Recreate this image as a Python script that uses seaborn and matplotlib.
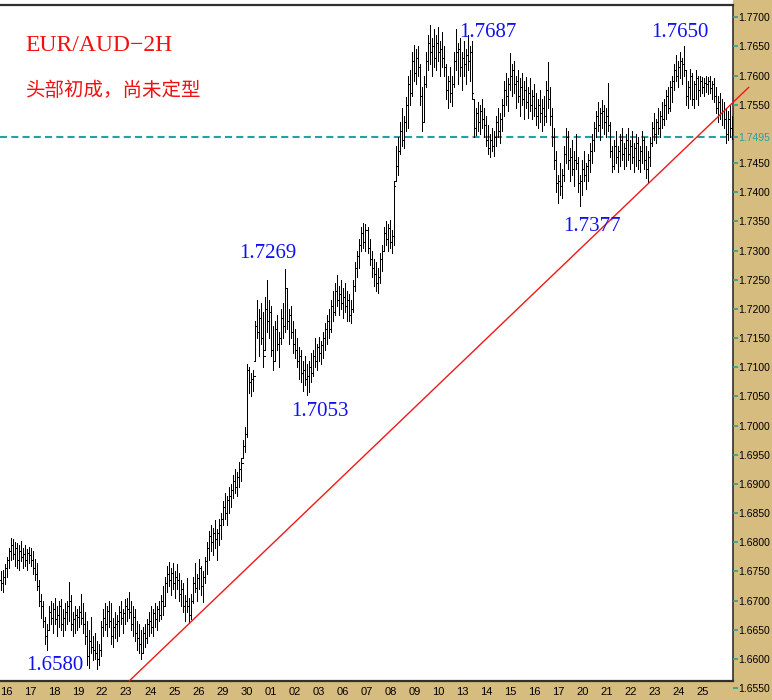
import numpy as np
import seaborn as sns
import matplotlib.pyplot as plt
from matplotlib.patches import Rectangle

# EUR/AUD 2H bars (one bar per 2 hours, 12 per day)
highs = [
    1.6750, 1.6752, 1.6762, 1.6775, 1.6790, 1.6807, 1.6805, 1.6800, 1.6798, 1.6795, 1.6802, 1.6790,
    1.6795, 1.6788, 1.6792, 1.6790, 1.6785, 1.6772, 1.6765, 1.6735, 1.6712, 1.6700, 1.6672, 1.6660,
    1.6690, 1.6700, 1.6695, 1.6705, 1.6690, 1.6700, 1.6702, 1.6685, 1.6695, 1.6700, 1.6732, 1.6710,
    1.6680, 1.6690, 1.6685, 1.6690, 1.6712, 1.6695, 1.6680, 1.6665, 1.6650, 1.6672, 1.6640, 1.6645,
    1.6630, 1.6625, 1.6665, 1.6685, 1.6695, 1.6690, 1.6700, 1.6695, 1.6670, 1.6680, 1.6675, 1.6690,
    1.6700, 1.6685, 1.6702, 1.6705, 1.6715, 1.6700, 1.6690, 1.6685, 1.6665, 1.6660, 1.6650, 1.6655,
    1.6660, 1.6668, 1.6680, 1.6690, 1.6685, 1.6695, 1.6690, 1.6700, 1.6710, 1.6725, 1.6740, 1.6760,
    1.6766, 1.6755, 1.6765, 1.6750, 1.6762, 1.6748, 1.6735, 1.6730, 1.6710, 1.6738, 1.6705, 1.6712,
    1.6740, 1.6765, 1.6745, 1.6772, 1.6760, 1.6750, 1.6775, 1.6800, 1.6820, 1.6830, 1.6825, 1.6838,
    1.6822, 1.6840, 1.6850, 1.6870, 1.6885, 1.6880, 1.6895, 1.6900, 1.6915, 1.6925, 1.6920, 1.6938,
    1.6945, 1.6975, 1.6998, 1.7105, 1.7100, 1.7090, 1.7095, 1.7180, 1.7215, 1.7200, 1.7210, 1.7195,
    1.7220, 1.7249, 1.7215, 1.7205, 1.7170, 1.7180, 1.7190, 1.7160, 1.7200, 1.7210, 1.7269, 1.7235,
    1.7200, 1.7205, 1.7180, 1.7165, 1.7150, 1.7135, 1.7130, 1.7110, 1.7120, 1.7105, 1.7110, 1.7125,
    1.7130, 1.7150, 1.7140, 1.7152, 1.7145, 1.7160, 1.7175, 1.7190, 1.7200, 1.7215, 1.7230, 1.7245,
    1.7258, 1.7240, 1.7250, 1.7235, 1.7245, 1.7230, 1.7225, 1.7215, 1.7250, 1.7280, 1.7300, 1.7320,
    1.7340, 1.7348, 1.7345, 1.7340, 1.7320, 1.7300, 1.7285, 1.7280, 1.7270, 1.7295, 1.7310, 1.7340,
    1.7350, 1.7345, 1.7352, 1.7335, 1.7420, 1.7480, 1.7494, 1.7520, 1.7545, 1.7530, 1.7563, 1.7600,
    1.7610, 1.7640, 1.7652, 1.7645, 1.7650, 1.7620, 1.7580, 1.7600, 1.7640, 1.7670, 1.7687, 1.7665,
    1.7680, 1.7670, 1.7683, 1.7660, 1.7675, 1.7650, 1.7620, 1.7600, 1.7615, 1.7600, 1.7640, 1.7680,
    1.7655, 1.7665, 1.7640, 1.7660, 1.7645, 1.7670, 1.7650, 1.7660, 1.7560, 1.7545, 1.7555, 1.7550,
    1.7560, 1.7545, 1.7530, 1.7515, 1.7500, 1.7510, 1.7505, 1.7530, 1.7545, 1.7535, 1.7560, 1.7590,
    1.7605, 1.7595, 1.7638, 1.7620, 1.7625, 1.7600, 1.7610, 1.7595, 1.7605, 1.7590, 1.7598, 1.7580,
    1.7595, 1.7575, 1.7585, 1.7570, 1.7560, 1.7575, 1.7560, 1.7565, 1.7590, 1.7623, 1.7580, 1.7545,
    1.7510, 1.7470, 1.7430, 1.7450, 1.7440, 1.7480, 1.7510, 1.7505, 1.7475, 1.7490, 1.7470, 1.7500,
    1.7460, 1.7430, 1.7455, 1.7470, 1.7450, 1.7465, 1.7485, 1.7500, 1.7520, 1.7540, 1.7555, 1.7545,
    1.7558, 1.7550, 1.7545, 1.7587, 1.7520, 1.7480, 1.7490, 1.7505, 1.7480, 1.7500, 1.7510, 1.7485,
    1.7500, 1.7510, 1.7490, 1.7505, 1.7485, 1.7500, 1.7495, 1.7480, 1.7505, 1.7495, 1.7480, 1.7470,
    1.7495, 1.7520, 1.7535, 1.7525, 1.7545, 1.7540, 1.7555, 1.7560, 1.7575, 1.7580, 1.7590, 1.7600,
    1.7620, 1.7635, 1.7625, 1.7640, 1.7630, 1.7650, 1.7610, 1.7590, 1.7612, 1.7605, 1.7590, 1.7610,
    1.7600, 1.7600, 1.7598, 1.7595, 1.7600, 1.7597, 1.7600, 1.7590, 1.7595, 1.7580, 1.7565, 1.7570,
    1.7560, 1.7555, 1.7545, 1.7540, 1.7550, 1.7530,
]
lows = [
    1.6718, 1.6715, 1.6728, 1.6740, 1.6755, 1.6770, 1.6772, 1.6760, 1.6755, 1.6752, 1.6768, 1.6755,
    1.6760, 1.6752, 1.6765, 1.6760, 1.6745, 1.6735, 1.6718, 1.6690, 1.6670, 1.6655, 1.6625, 1.6615,
    1.6650, 1.6660, 1.6645, 1.6660, 1.6640, 1.6655, 1.6650, 1.6640, 1.6650, 1.6660, 1.6665, 1.6650,
    1.6640, 1.6645, 1.6650, 1.6655, 1.6660, 1.6645, 1.6625, 1.6590, 1.6585, 1.6610, 1.6598, 1.6600,
    1.6582, 1.6590, 1.6605, 1.6640, 1.6650, 1.6640, 1.6655, 1.6625, 1.6620, 1.6635, 1.6630, 1.6640,
    1.6660, 1.6645, 1.6660, 1.6665, 1.6670, 1.6650, 1.6640, 1.6630, 1.6615, 1.6610, 1.6600, 1.6610,
    1.6620, 1.6628, 1.6640, 1.6645, 1.6640, 1.6655, 1.6650, 1.6665, 1.6668, 1.6675, 1.6690, 1.6715,
    1.6725, 1.6710, 1.6720, 1.6705, 1.6720, 1.6700, 1.6690, 1.6680, 1.6665, 1.6680, 1.6662, 1.6668,
    1.6695, 1.6715, 1.6700, 1.6720, 1.6710, 1.6697, 1.6730, 1.6745, 1.6770, 1.6785, 1.6778, 1.6790,
    1.6770, 1.6795, 1.6805, 1.6830, 1.6840, 1.6830, 1.6850, 1.6860, 1.6875, 1.6885, 1.6880, 1.6895,
    1.6905, 1.6945, 1.6955, 1.6980, 1.7055, 1.7050, 1.7060, 1.7110, 1.7150, 1.7120, 1.7140, 1.7100,
    1.7130, 1.7160, 1.7150, 1.7120, 1.7095, 1.7110, 1.7130, 1.7100, 1.7140, 1.7150, 1.7160, 1.7165,
    1.7140, 1.7150, 1.7125, 1.7115, 1.7100, 1.7080, 1.7075, 1.7060, 1.7070, 1.7053, 1.7058, 1.7075,
    1.7085, 1.7100, 1.7095, 1.7110, 1.7105, 1.7115, 1.7130, 1.7140, 1.7150, 1.7160, 1.7180, 1.7190,
    1.7205, 1.7190, 1.7200, 1.7185, 1.7195, 1.7180, 1.7180, 1.7175, 1.7195, 1.7230, 1.7255, 1.7270,
    1.7300, 1.7305, 1.7300, 1.7295, 1.7275, 1.7255, 1.7240, 1.7230, 1.7228, 1.7245, 1.7265, 1.7300,
    1.7310, 1.7300, 1.7305, 1.7296, 1.7310, 1.7420, 1.7430, 1.7465, 1.7480, 1.7475, 1.7505, 1.7510,
    1.7550, 1.7565, 1.7590, 1.7585, 1.7600, 1.7550, 1.7505, 1.7520, 1.7580, 1.7610, 1.7620, 1.7600,
    1.7615, 1.7610, 1.7625, 1.7600, 1.7615, 1.7600, 1.7560, 1.7545, 1.7555, 1.7548, 1.7580, 1.7610,
    1.7585, 1.7600, 1.7575, 1.7600, 1.7585, 1.7610, 1.7590, 1.7560, 1.7495, 1.7498, 1.7505, 1.7500,
    1.7510, 1.7495, 1.7480, 1.7465, 1.7460, 1.7470, 1.7462, 1.7480, 1.7495, 1.7485, 1.7505, 1.7530,
    1.7550, 1.7540, 1.7575, 1.7565, 1.7570, 1.7545, 1.7555, 1.7530, 1.7550, 1.7525, 1.7545, 1.7528,
    1.7540, 1.7525, 1.7530, 1.7515, 1.7510, 1.7520, 1.7505, 1.7515, 1.7520, 1.7545, 1.7515, 1.7480,
    1.7440, 1.7400, 1.7381, 1.7395, 1.7390, 1.7420, 1.7450, 1.7440, 1.7420, 1.7430, 1.7410, 1.7440,
    1.7400, 1.7377, 1.7395, 1.7420, 1.7405, 1.7420, 1.7435, 1.7450, 1.7470, 1.7495, 1.7505, 1.7490,
    1.7510, 1.7500, 1.7495, 1.7505, 1.7460, 1.7435, 1.7440, 1.7450, 1.7435, 1.7445, 1.7455, 1.7440,
    1.7445, 1.7455, 1.7440, 1.7450, 1.7435, 1.7445, 1.7440, 1.7435, 1.7450, 1.7440, 1.7425, 1.7418,
    1.7445, 1.7480, 1.7490, 1.7485, 1.7500, 1.7495, 1.7510, 1.7515, 1.7525, 1.7535, 1.7540, 1.7555,
    1.7575, 1.7590, 1.7580, 1.7595, 1.7585, 1.7600, 1.7550, 1.7545, 1.7560, 1.7550, 1.7545, 1.7560,
    1.7550, 1.7565, 1.7570, 1.7565, 1.7572, 1.7568, 1.7570, 1.7560, 1.7555, 1.7535, 1.7520, 1.7525,
    1.7515, 1.7510, 1.7485, 1.7490, 1.7495, 1.7492,
]
closes = [
    1.6730, 1.6740, 1.6755, 1.6770, 1.6785, 1.6795, 1.6780, 1.6790, 1.6770, 1.6785, 1.6775, 1.6780,
    1.6770, 1.6782, 1.6778, 1.6770, 1.6755, 1.6745, 1.6725, 1.6700, 1.6690, 1.6665, 1.6640, 1.6650,
    1.6680, 1.6670, 1.6685, 1.6668, 1.6675, 1.6690, 1.6660, 1.6670, 1.6680, 1.6690, 1.6700, 1.6660,
    1.6668, 1.6675, 1.6672, 1.6680, 1.6670, 1.6660, 1.6640, 1.6605, 1.6630, 1.6620, 1.6615, 1.6610,
    1.6600, 1.6615, 1.6655, 1.6670, 1.6660, 1.6682, 1.6665, 1.6640, 1.6655, 1.6660, 1.6665, 1.6680,
    1.6670, 1.6678, 1.6690, 1.6685, 1.6680, 1.6660, 1.6672, 1.6645, 1.6635, 1.6625, 1.6610, 1.6645,
    1.6635, 1.6660, 1.6665, 1.6655, 1.6678, 1.6668, 1.6685, 1.6675, 1.6700, 1.6690, 1.6730, 1.6745,
    1.6735, 1.6748, 1.6730, 1.6740, 1.6735, 1.6712, 1.6720, 1.6690, 1.6700, 1.6690, 1.6675, 1.6700,
    1.6730, 1.6722, 1.6738, 1.6755, 1.6725, 1.6740, 1.6768, 1.6790, 1.6810, 1.6800, 1.6815, 1.6805,
    1.6815, 1.6830, 1.6840, 1.6860, 1.6850, 1.6872, 1.6880, 1.6890, 1.6905, 1.6895, 1.6912, 1.6925,
    1.6935, 1.6965, 1.6985, 1.7095, 1.7075, 1.7080, 1.7085, 1.7170, 1.7160, 1.7185, 1.7150, 1.7120,
    1.7200, 1.7180, 1.7195, 1.7130, 1.7110, 1.7165, 1.7140, 1.7150, 1.7185, 1.7170, 1.7235, 1.7180,
    1.7190, 1.7160, 1.7140, 1.7130, 1.7110, 1.7120, 1.7090, 1.7095, 1.7080, 1.7085, 1.7100, 1.7090,
    1.7120, 1.7110, 1.7135, 1.7125, 1.7138, 1.7150, 1.7165, 1.7180, 1.7165, 1.7205, 1.7195, 1.7230,
    1.7215, 1.7225, 1.7210, 1.7220, 1.7205, 1.7215, 1.7190, 1.7200, 1.7240, 1.7270, 1.7290, 1.7310,
    1.7330, 1.7315, 1.7335, 1.7305, 1.7285, 1.7270, 1.7260, 1.7245, 1.7255, 1.7285, 1.7300, 1.7330,
    1.7320, 1.7338, 1.7315, 1.7325, 1.7410, 1.7445, 1.7470, 1.7505, 1.7490, 1.7520, 1.7550, 1.7585,
    1.7570, 1.7625, 1.7605, 1.7630, 1.7615, 1.7565, 1.7520, 1.7585, 1.7625, 1.7655, 1.7640, 1.7650,
    1.7630, 1.7655, 1.7640, 1.7645, 1.7630, 1.7615, 1.7575, 1.7590, 1.7570, 1.7585, 1.7625, 1.7640,
    1.7645, 1.7615, 1.7630, 1.7620, 1.7635, 1.7625, 1.7640, 1.7570, 1.7510, 1.7535, 1.7520, 1.7540,
    1.7525, 1.7515, 1.7490, 1.7475, 1.7490, 1.7480, 1.7495, 1.7520, 1.7505, 1.7525, 1.7550, 1.7575,
    1.7565, 1.7585, 1.7600, 1.7610, 1.7585, 1.7590, 1.7565, 1.7580, 1.7560, 1.7575, 1.7555, 1.7570,
    1.7550, 1.7565, 1.7545, 1.7530, 1.7550, 1.7535, 1.7545, 1.7530, 1.7575, 1.7560, 1.7530, 1.7495,
    1.7455, 1.7415, 1.7420, 1.7410, 1.7430, 1.7465, 1.7495, 1.7455, 1.7460, 1.7440, 1.7455, 1.7450,
    1.7415, 1.7420, 1.7440, 1.7430, 1.7445, 1.7455, 1.7470, 1.7490, 1.7510, 1.7530, 1.7515, 1.7535,
    1.7540, 1.7520, 1.7530, 1.7515, 1.7470, 1.7445, 1.7480, 1.7460, 1.7470, 1.7490, 1.7465, 1.7475,
    1.7490, 1.7465, 1.7480, 1.7460, 1.7475, 1.7485, 1.7455, 1.7470, 1.7490, 1.7455, 1.7440, 1.7460,
    1.7485, 1.7510, 1.7500, 1.7520, 1.7510, 1.7530, 1.7525, 1.7550, 1.7565, 1.7545, 1.7580, 1.7590,
    1.7610, 1.7600, 1.7615, 1.7625, 1.7620, 1.7610, 1.7565, 1.7580, 1.7600, 1.7560, 1.7585, 1.7595,
    1.7575, 1.7590, 1.7580, 1.7588, 1.7585, 1.7590, 1.7578, 1.7585, 1.7565, 1.7545, 1.7555, 1.7535,
    1.7540, 1.7525, 1.7500, 1.7525, 1.7510, 1.7498,
]
first_open = 1.6735

day_labels = ["16", "17", "18", "19", "22", "23", "24", "25", "26", "29", "30", "01", "02", "03", "06",
              "07", "08", "09", "10", "13", "14", "15", "16", "17", "20", "21", "22", "23", "24", "25"]
bars_per_day = 12

# trend line (bar index, price) and horizontal support
trend_x = [64.0, 373.4]
trend_y = [1.6562, 1.7580]
support_level = 1.7495

# marked swing points: (label, bar index, price)
swing_labels = ["1.6580", "1.7269", "1.7053", "1.7687", "1.7377", "1.7650"]
swing_x = [27, 133, 159, 243, 295, 339]
swing_y = [1.6581, 1.7287, 1.7017, 1.7666, 1.7333, 1.7666]

price_ticks = [1.6550, 1.6600, 1.6650, 1.6700, 1.6750, 1.6800, 1.6850, 1.6900, 1.6950, 1.7000,
               1.7050, 1.7100, 1.7150, 1.7200, 1.7250, 1.7300, 1.7350, 1.7400, 1.7450, 1.7495,
               1.7550, 1.7600, 1.7650, 1.7700]

TAN = "#D7BC80"
TEAL = "#22A2A2"

sns.set_style("white")
plt.rcParams["font.family"] = ["Liberation Sans", "DejaVu Sans"]

df_idx = np.arange(len(closes))
h = np.array(highs)
l = np.array(lows)
c = np.array(closes)
o = np.clip(np.concatenate([[first_open], c[:-1]]), l, h)

W, H = 772, 700
fig = plt.figure(figsize=(W / 100, H / 100), dpi=100)
fig.patch.set_facecolor("white")
fig.patches.append(Rectangle((733 / W, 0), 1, 1, transform=fig.transFigure, color=TAN, zorder=-5))
fig.patches.append(Rectangle((0, 0), 1, 19 / H, transform=fig.transFigure, color=TAN, zorder=-5))

ax = fig.add_axes([0, 19 / H, 733 / W, 676 / H])
ax.set_facecolor("white")
ylo, yhi = 1.6562, 1.7721
ax.set_xlim(-0.5, 365.5)
ax.set_ylim(ylo, yhi)

# OHLC bars
ax.vlines(df_idx, l, h, color="black", lw=0.72, antialiased=False, zorder=3)
ax.hlines(o, df_idx - 0.6, df_idx, color="black", lw=0.72, antialiased=False, zorder=3)
ax.hlines(c, df_idx, df_idx + 0.6, color="black", lw=0.72, antialiased=False, zorder=3)

ax.axhline(support_level, color=TEAL, lw=1.5, linestyle=(0, (3.4, 2.0)), zorder=2)
sns.lineplot(x=trend_x, y=trend_y, ax=ax, color="#F01818", lw=1.0, clip_on=False, zorder=4)

for txt, sx, sy in zip(swing_labels, swing_x, swing_y):
    ax.text(sx, sy, txt, color="#1010F0", fontsize=15, ha="center", va="baseline",
            family=["Liberation Serif", "DejaVu Serif"], zorder=5)

ax.text(0.034, 0.932, "EUR/AUD\u22122H", transform=ax.transAxes, color="#F01010", fontsize=17,
        family=["Liberation Serif", "DejaVu Serif"], va="baseline", ha="left")
ax.text(0.036, 0.866, "头部初成，尚未定型", transform=ax.transAxes, color="#F01010", fontsize=14,
        family=["Noto Sans CJK SC", "DejaVu Sans"], va="baseline", ha="left", fontweight="light")

# x axis: one tick at the start of each trading day
ax.set_xticks([2.5 + bars_per_day * k for k in range(len(day_labels))])
ax.set_xticklabels(day_labels)
ax.tick_params(axis="x", direction="out", length=3, width=1, color=TEAL, pad=1.5,
               labelsize=8, labelcolor="black")
ax.set_yticks([])

ax.spines["left"].set_visible(False)
for side in ["top", "bottom", "right"]:
    ax.spines[side].set_visible(True)
    ax.spines[side].set_color("#303030")
ax.spines["top"].set_linewidth(1.6)
ax.spines["bottom"].set_linewidth(1.6)
ax.spines["right"].set_linewidth(1.2)

# price scale on the right, extended down through the bottom strip
px_per_unit = 676 / (yhi - ylo)
ax_r = fig.add_axes([0, 0, 733 / W, 695 / H])
ax_r.patch.set_visible(False)
ax_r.set_xlim(0, 1)
ax_r.set_ylim(ylo - 19 / px_per_unit, yhi)
for s in ax_r.spines.values():
    s.set_visible(False)
ax_r.set_xticks([])
ax_r.yaxis.tick_right()
ax_r.set_yticks(price_ticks)
ax_r.set_yticklabels([f"{p:.4f}" for p in price_ticks])
ax_r.tick_params(axis="y", direction="out", length=3.5, width=1.2, color=TEAL, pad=0.5,
                 labelsize=7.5, labelcolor="black")
for lbl, p in zip(ax_r.get_yticklabels(), price_ticks):
    if p == support_level:
        lbl.set_color(TEAL)

fig.savefig("out.png", dpi=100)
